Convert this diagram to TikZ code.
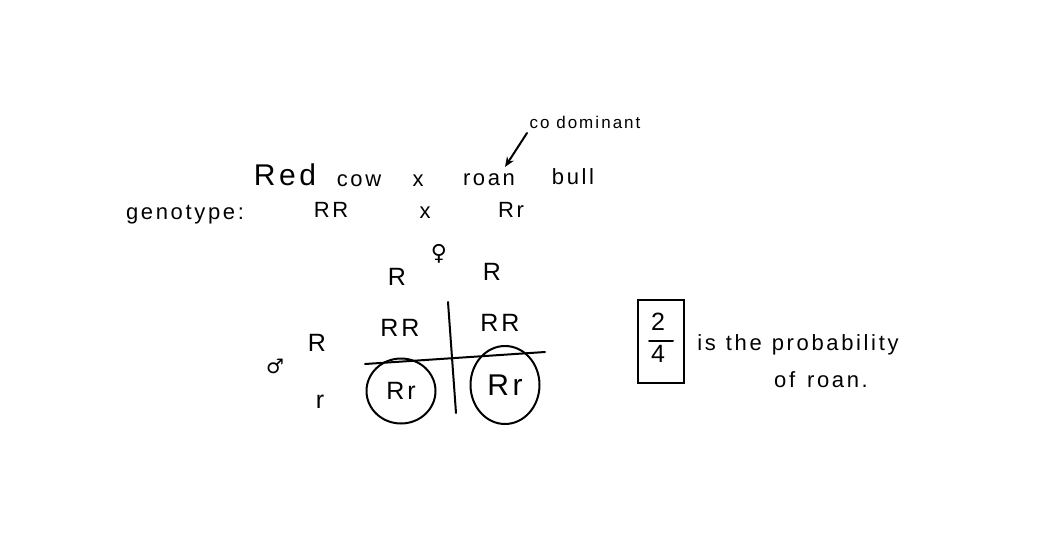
\documentclass[tikz,border=0pt]{standalone}
\usepackage{fontspec}
\setmainfont[LetterSpace=12]{Liberation Sans}
\newfontfamily\symfont{DejaVu Sans}
\usetikzlibrary{shapes.geometric,arrows.meta}
\begin{document}
\begin{tikzpicture}[x=1pt,y=-1pt,
  txt/.style={inner sep=0pt,font=\fontsize{22}{24}\selectfont},
  cell/.style={inner sep=0pt,font=\fontsize{25}{27}\selectfont},
  big/.style={inner sep=0pt,font=\fontsize{30}{32}\selectfont},
  small/.style={inner sep=0pt,font=\fontsize{17}{19}\selectfont},
  pen/.style={line width=2pt,line cap=round},
  ring/.style={draw,ellipse,line width=2pt,inner sep=0pt}]
\useasboundingbox[fill=white] (0,0) rectangle (1037,533);
% header
\node[small] (codom) at (585,122) {co dominant};
\node[big] (red) at (285,175) {Red};
\node[txt] (cow) at (359,181) {cow};
\node[txt] (x1) at (418,181) {x};
\node[txt] (roan) at (489,180) {roan};
\node[txt] (bull) at (573,177) {bull};
\coordinate (ca) at (527,133);
\coordinate (cb) at (505,167);
\draw[pen,-{Stealth[length=10pt,width=8pt]}] (ca) -- (cb);
% genotype
\node[txt] (geno) at (185,215) {genotype:};
\node[txt] (g1) at (331,210) {RR};
\node[txt] (x2) at (425,213) {x};
\node[txt] (g2) at (511,210) {Rr};
% punnett
\node[inner sep=0pt,font=\symfont\fontsize{22}{24}\selectfont] (fem) at (439,254) {♀};
\node[cell] (f1) at (397,277) {R};
\node[cell] (f2) at (492,272) {R};
\node[inner sep=0pt,font=\symfont\fontsize{20}{22}\selectfont] (mal) at (275,366) {♂};
\node[cell] (m1) at (317,343) {R};
\node[cell] (m2) at (320,402) {r};
\node[cell] (c11) at (400,328) {RR};
\node[cell] (c12) at (500,323) {RR};
\node[cell,ring,minimum width=69pt,minimum height=65pt] (c21) at (401,391) {Rr};
\node[big,ring,minimum width=69pt,minimum height=78pt] (c22) at (505,385) {Rr};
\coordinate (vt) at (448,302);
\coordinate (vb) at (456,413);
\coordinate (hl) at (365,364);
\coordinate (hr) at (545,352);
\draw[pen] (vt) -- (vb);
\draw[pen] (hl) -- (hr);
% probability
\node[draw,line width=2pt,minimum width=46pt,minimum height=83pt,inner sep=0pt] (box) at (661,341) {};
\node[cell] (n2) at (658,322) {2};
\node[cell] (n4) at (658,354) {4};
\draw[pen] ([xshift=-12pt]box.center) -- ([xshift=12pt]box.center);
\node[txt] (is) at (798,345) {is\hspace{10pt}the\hspace{10pt}probability};
\node[txt] (of) at (821,380) {of\hspace{12pt}roan.};
\end{tikzpicture}
\end{document}
